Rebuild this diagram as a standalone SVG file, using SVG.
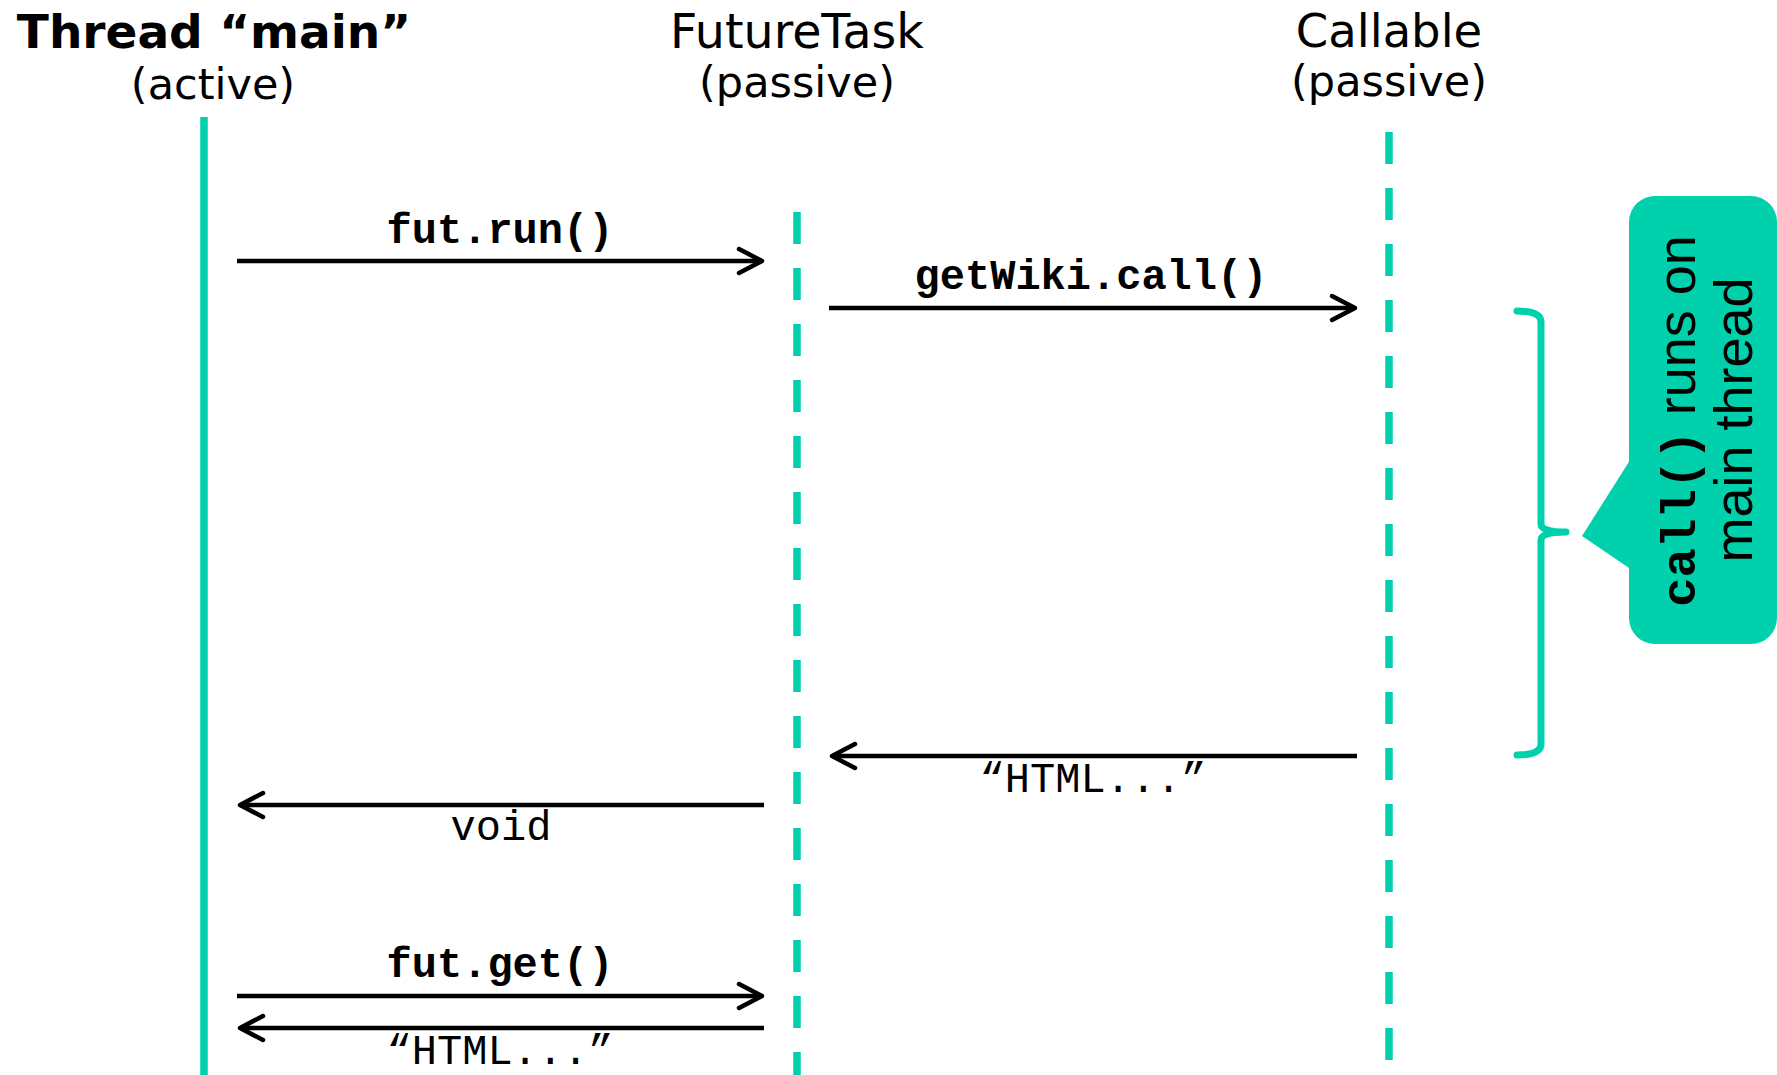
<svg xmlns="http://www.w3.org/2000/svg" width="1777" height="1075" viewBox="0 0 1777 1075">
<style>
.hdr{font-family:"DejaVu Sans",Verdana,sans-serif;fill:#000;text-anchor:middle}
.msg{font-family:"Liberation Mono","Courier New",monospace;font-size:42px;fill:#000;text-anchor:middle}
.b{font-weight:bold}
.life{stroke:#00D1AC;stroke-width:7.5;fill:none}
.dash{stroke-dasharray:32 24}
.arr{stroke:#000;stroke-width:4.5;fill:none;marker-end:url(#ah)}
.teal{fill:#00D1AC}
</style>
<defs>
<marker id="ah" markerUnits="userSpaceOnUse" markerWidth="40" markerHeight="40" viewBox="-30 -20 40 40" refX="0" refY="0" orient="auto">
<path d="M-23,-12 L0,0 L-23,12" fill="none" stroke="#000" stroke-width="4.5" stroke-linecap="round" stroke-linejoin="round"/>
</marker>
</defs>
<rect width="1777" height="1075" fill="#fff"/>
<g id="main">
<text class="hdr b" x="214" y="48" font-size="47" font-weight="bold">Thread “main”</text>
<text class="hdr" x="213" y="99" font-size="43">(active)</text>
<line class="life" x1="204" y1="117" x2="204" y2="1075" stroke-width="7"/>
</g>
<g id="futuretask">
<text class="hdr" x="797" y="48" font-size="47.5">FutureTask</text>
<text class="hdr" x="797" y="97" font-size="43">(passive)</text>
<line class="life dash" x1="797" y1="212" x2="797" y2="1075"/>
</g>
<g id="callable">
<text class="hdr" x="1389" y="47" font-size="46.5">Callable</text>
<text class="hdr" x="1389" y="96" font-size="43">(passive)</text>
<line class="life dash" x1="1389" y1="132" x2="1389" y2="1060"/>
</g>
<g id="connectors">
<line class="arr" x1="237" y1="261" x2="762" y2="261"/>
<text class="msg b" x="500" y="243">fut.run()</text>
<line class="arr" x1="829" y1="308" x2="1355" y2="308"/>
<text class="msg b" x="1091" y="289">getWiki.call()</text>
<line class="arr" x1="1357" y1="756" x2="832" y2="756"/>
<text class="msg" x="1093" y="792">“HTML...”</text>
<line class="arr" x1="764" y1="805" x2="240" y2="805"/>
<text class="msg" x="501" y="840">void</text>
<line class="arr" x1="237" y1="996" x2="762" y2="996"/>
<text class="msg b" x="500" y="977">fut.get()</text>
<line class="arr" x1="764" y1="1028" x2="240" y2="1028"/>
<text class="msg" x="500" y="1064">“HTML...”</text>
</g>
<g id="brace">
<path d="M1517,311 Q1541,311 1541,322 L1541,524 Q1541,532 1566,532 Q1541,532 1541,540 L1541,744 Q1541,755 1517,755" fill="none" stroke="#00D1AC" stroke-width="7" stroke-linecap="round" stroke-linejoin="round"/>
</g>
<g id="callout">
<rect class="teal" x="1629" y="196" width="148" height="448" rx="26" ry="26"/>
<polygon class="teal" points="1632,457 1582,536 1632,570"/>
<text transform="translate(1695,421) rotate(-90)" x="0" y="0" text-anchor="middle" font-family="'Liberation Sans',Arial,sans-serif" font-size="54" fill="#000"><tspan font-family="'Liberation Mono','Courier New',monospace" font-weight="bold" font-size="49">call()</tspan> runs on</text>
<text transform="translate(1752,420) rotate(-90)" x="0" y="0" text-anchor="middle" font-family="'Liberation Sans',Arial,sans-serif" font-size="54" fill="#000">main thread</text>
</g>
</svg>
